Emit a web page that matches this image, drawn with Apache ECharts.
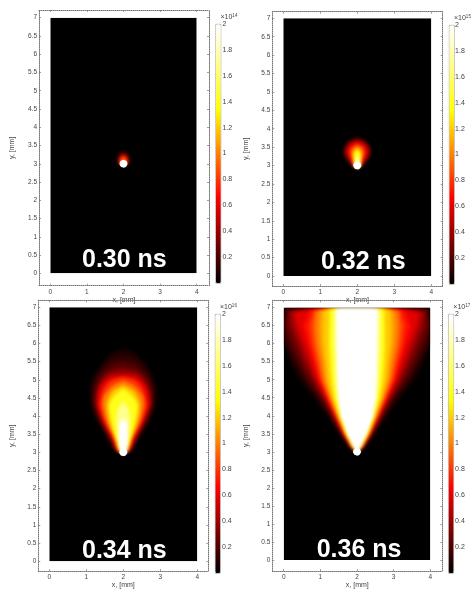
<!DOCTYPE html>
<html><head><meta charset="utf-8">
<style>html,body{margin:0;padding:0;background:#fff}#c{width:471px;height:590px}</style>
<script src="https://cdn.jsdelivr.net/npm/echarts@6/dist/echarts.min.js"></script>
</head><body><div id="c"></div>
<script>
// Values. Each isoline: [level, [[y mm, half-width mm about x=2], ...]]
const xTicks = [0, 1, 2, 3, 4];
const yTicks = [0, 0.5, 1, 1.5, 2, 2.5, 3, 3.5, 4, 4.5, 5, 5.5, 6, 6.5, 7];
const barTicks = [0.2, 0.4, 0.6, 0.8, 1, 1.2, 1.4, 1.6, 1.8, 2];
const timeLabels = ['0.30 ns', '0.32 ns', '0.34 ns', '0.36 ns'];
const exponents = ['14', '15', '16', '17'];
const field = [0, [[7, 2], [0, 2]]];
const electrode = [2, [[3.11, 0], [3.08, 0.07], [3, 0.11], [2.92, 0.07], [2.89, 0]]];

const panel030 = [
  [0.1, [[3.36, 0], [3.3, 0.12], [3.15, 0.19], [3.0, 0.16], [2.92, 0]]],
  [0.3, [[3.31, 0], [3.26, 0.1], [3.14, 0.15], [3.0, 0.14], [2.95, 0]]],
  [0.6, [[3.25, 0], [3.2, 0.08], [3.12, 0.12], [3.0, 0.12], [2.95, 0]]],
  [0.9, [[3.2, 0], [3.16, 0.06], [3.1, 0.1], [3.0, 0.1], [2.95, 0]]]
];
const panel032 = [
  [0.05, [[3.82, 0], [3.72, 0.22], [3.5, 0.38], [3.3, 0.41], [3.1, 0.28], [2.98, 0.14], [2.92, 0]]],
  [0.15, [[3.77, 0], [3.68, 0.22], [3.5, 0.36], [3.3, 0.37], [3.1, 0.25], [2.98, 0.13], [2.92, 0]]],
  [0.3, [[3.73, 0], [3.65, 0.2], [3.5, 0.33], [3.3, 0.34], [3.1, 0.22], [2.98, 0.12], [2.92, 0]]],
  [0.45, [[3.69, 0], [3.62, 0.19], [3.47, 0.3], [3.3, 0.3], [3.1, 0.19], [2.98, 0.11], [2.92, 0]]],
  [0.6, [[3.65, 0], [3.58, 0.17], [3.42, 0.27], [3.25, 0.25], [3.1, 0.16], [2.98, 0.11], [2.92, 0]]],
  [0.8, [[3.59, 0], [3.51, 0.15], [3.38, 0.21], [3.2, 0.17], [3.08, 0.13], [2.98, 0.1], [2.92, 0]]],
  [1.0, [[3.54, 0], [3.45, 0.13], [3.33, 0.16], [3.15, 0.12], [3.0, 0.1], [2.92, 0]]],
  [1.2, [[3.48, 0], [3.38, 0.1], [3.27, 0.12], [3.12, 0.1], [3.0, 0.09], [2.92, 0]]],
  [1.4, [[3.42, 0], [3.32, 0.08], [3.2, 0.09], [3.1, 0.09], [3.0, 0.09], [2.92, 0]]],
  [1.8, [[3.25, 0], [3.17, 0.05], [3.08, 0.07], [3.0, 0.08], [2.92, 0]]]
];
const panel034 = [
  [0.05, [[5.88, 0], [5.78, 0.28], [5.5, 0.56], [5.1, 0.82], [4.75, 0.92], [4.3, 0.9], [3.85, 0.73], [3.4, 0.46], [3.04, 0.25], [2.96, 0]]],
  [0.1, [[5.76, 0], [5.66, 0.32], [5.42, 0.56], [5.1, 0.76], [4.75, 0.87], [4.3, 0.85], [3.85, 0.69], [3.4, 0.43], [3.04, 0.23], [2.96, 0]]],
  [0.15, [[5.62, 0], [5.5, 0.38], [5.1, 0.7], [4.75, 0.82], [4.3, 0.82], [3.85, 0.66], [3.4, 0.41], [3.04, 0.22], [2.96, 0]]],
  [0.22, [[5.48, 0], [5.38, 0.36], [5.1, 0.63], [4.75, 0.78], [4.3, 0.79], [3.85, 0.63], [3.4, 0.39], [3.04, 0.2], [2.96, 0]]],
  [0.3, [[5.35, 0], [5.27, 0.34], [5.1, 0.56], [4.75, 0.74], [4.3, 0.76], [3.85, 0.6], [3.4, 0.37], [3.04, 0.19], [2.96, 0]]],
  [0.37, [[5.27, 0], [5.2, 0.35], [5.0, 0.58], [4.7, 0.71], [4.3, 0.74], [3.85, 0.58], [3.4, 0.35], [3.04, 0.18], [2.96, 0]]],
  [0.45, [[5.2, 0], [5.14, 0.37], [4.9, 0.58], [4.6, 0.7], [4.3, 0.72], [3.85, 0.56], [3.4, 0.34], [3.04, 0.17], [2.96, 0]]],
  [0.6, [[5.14, 0], [5.08, 0.35], [4.93, 0.54], [4.75, 0.65], [4.3, 0.7], [3.85, 0.54], [3.4, 0.32], [3.04, 0.16], [2.96, 0]]],
  [0.8, [[5.08, 0], [5.0, 0.3], [4.8, 0.5], [4.6, 0.58], [4.3, 0.63], [3.85, 0.5], [3.4, 0.28], [3.04, 0.15], [2.96, 0]]],
  [1.0, [[4.97, 0], [4.85, 0.28], [4.57, 0.52], [4.3, 0.56], [3.85, 0.45], [3.4, 0.25], [3.04, 0.13], [2.96, 0]]],
  [1.2, [[4.85, 0], [4.7, 0.28], [4.4, 0.44], [4.1, 0.44], [3.7, 0.34], [3.3, 0.2], [3.04, 0.11], [2.96, 0]]],
  [1.4, [[4.75, 0], [4.55, 0.24], [4.3, 0.38], [3.85, 0.32], [3.4, 0.2], [3.04, 0.1], [2.96, 0]]],
  [1.7, [[4.4, 0], [4.2, 0.14], [3.9, 0.19], [3.5, 0.16], [3.04, 0.09], [2.96, 0]]],
  [2, [[3.95, 0], [3.8, 0.1], [3.4, 0.13], [3.04, 0.09], [2.96, 0]]]
];
const panel036 = [
  [0.05, [[7, 1.9], [6.98, 2], [6.1, 2], [5.5, 1.85], [5, 1.6], [4.5, 1.2], [4, 0.84], [3.5, 0.52], [3.13, 0.25], [2.96, 0]]],
  [0.1, [[7, 1.7], [6.97, 2], [6, 2], [5.5, 1.75], [5, 1.5], [4.5, 1.1], [4, 0.78], [3.5, 0.48], [3.13, 0.22], [2.96, 0]]],
  [0.15, [[7, 1.55], [6.97, 1.95], [6.3, 2], [6, 1.92], [5.5, 1.68], [5, 1.43], [4.5, 1.06], [4, 0.75], [3.5, 0.46], [3.13, 0.215], [2.96, 0]]],
  [0.2, [[7, 1.4], [6.97, 1.9], [6.5, 2], [6, 1.85], [5.5, 1.62], [5, 1.37], [4.5, 1.02], [4, 0.72], [3.5, 0.45], [3.13, 0.21], [2.96, 0]]],
  [0.25, [[7, 1.25], [6.96, 1.75], [6.6, 1.98], [6, 1.77], [5.5, 1.56], [5, 1.31], [4.5, 0.98], [4, 0.7], [3.5, 0.43], [3.13, 0.205], [2.96, 0]]],
  [0.3, [[7, 1.1], [6.95, 1.6], [6.9, 1.9], [6.5, 1.9], [6, 1.7], [5.5, 1.5], [5, 1.25], [4.5, 0.95], [4, 0.68], [3.5, 0.42], [3.13, 0.2], [2.96, 0]]],
  [0.37, [[7, 1.02], [6.94, 1.55], [6.89, 1.85], [6.5, 1.82], [6, 1.63], [5.5, 1.43], [5, 1.2], [4.5, 0.92], [4, 0.66], [3.5, 0.41], [3.13, 0.19], [2.96, 0]]],
  [0.45, [[7, 0.95], [6.93, 1.5], [6.88, 1.8], [6.5, 1.75], [6, 1.56], [5.5, 1.37], [5, 1.16], [4.5, 0.9], [4, 0.65], [3.5, 0.4], [3.13, 0.18], [2.96, 0]]],
  [0.52, [[7, 0.9], [6.93, 1.45], [6.86, 1.74], [6.5, 1.68], [6, 1.49], [5.5, 1.31], [5, 1.12], [4.5, 0.87], [4, 0.63], [3.5, 0.39], [3.13, 0.175], [2.96, 0]]],
  [0.6, [[7, 0.85], [6.93, 1.4], [6.85, 1.68], [6.5, 1.6], [6, 1.42], [5.5, 1.25], [5, 1.08], [4.5, 0.84], [4, 0.62], [3.5, 0.38], [3.13, 0.17], [2.96, 0]]],
  [0.7, [[7, 0.8], [6.92, 1.3], [6.5, 1.46], [6, 1.33], [5.5, 1.18], [5, 1.04], [4.5, 0.82], [4, 0.6], [3.5, 0.37], [3.13, 0.165], [2.96, 0]]],
  [0.8, [[7, 0.75], [6.92, 1.2], [6.5, 1.32], [6, 1.25], [5.5, 1.12], [5, 1.0], [4.5, 0.8], [4, 0.58], [3.5, 0.36], [3.13, 0.16], [2.96, 0]]],
  [0.9, [[7, 0.72], [6.91, 1.15], [6.5, 1.22], [6, 1.17], [5.5, 1.06], [5, 0.96], [4.5, 0.77], [4, 0.56], [3.5, 0.35], [3.13, 0.155], [2.96, 0]]],
  [1.0, [[7, 0.7], [6.9, 1.1], [6.5, 1.14], [6, 1.1], [5.5, 1.0], [5, 0.92], [4.5, 0.75], [4, 0.55], [3.5, 0.34], [3.13, 0.15], [2.96, 0]]],
  [1.1, [[7, 0.66], [6.91, 1.0], [6.5, 1.03], [6, 1.0], [5.5, 0.92], [5, 0.86], [4.5, 0.71], [4, 0.53], [3.5, 0.33], [3.13, 0.14], [2.96, 0]]],
  [1.2, [[7, 0.62], [6.92, 0.9], [6.5, 0.93], [6, 0.92], [5.5, 0.85], [5, 0.8], [4.5, 0.68], [4, 0.51], [3.5, 0.32], [3.13, 0.13], [2.96, 0]]],
  [1.4, [[7, 0.55], [6.93, 0.75], [6, 0.76], [5.5, 0.74], [5, 0.7], [4.5, 0.62], [4, 0.48], [3.5, 0.3], [3.13, 0.12], [2.96, 0]]],
  [1.65, [[7, 0.48], [6.94, 0.65], [6, 0.65], [5, 0.61], [4.5, 0.56], [4, 0.46], [3.5, 0.28], [3.13, 0.1], [2.96, 0]]],
  [2, [[7, 0.4], [6.95, 0.57], [6, 0.56], [5, 0.54], [4.5, 0.51], [4, 0.44], [3.5, 0.26], [3.13, 0.09], [2.96, 0]]]
];
const panelContours = [panel030, panel032, panel034, panel036];

// Layout of the four panels (pixels): outer frame, black field, colour bar
const layout = [
  {frame:[39,10,209,285.7], plot:[50.3,17.7,196.7,273.3], bar:[215.5,24,5,259], label:[82,248]},
  {frame:[272.3,11.7,442.7,286], plot:[283.3,18.3,431.3,276], bar:[449,25,5,259], label:[321,250]},
  {frame:[38.3,300.3,208.3,575], plot:[49.3,307.3,197.3,565], bar:[215,314,5,259], label:[82,539]},
  {frame:[272.3,300.3,442.3,574.3], plot:[283.7,307.7,430.3,563], bar:[448.3,314,5,259], label:[316.7,538]}
];
const textColor = '#444';
const frameColor = '#777';
const tickStyle = {color: '#777', width: 0.7};

// The plume layer is softened and held inside the black fields.
const clip = layout.map(p => {
  const [l, t, r, b] = p.plot;
  return `M${l} ${t}H${r}V${b}H${l}Z`;
}).join('');
const css = document.createElement('style');
css.textContent = `#c canvas[data-zr-dom-id="zr_1"]{filter:blur(1.8px);clip-path:path('${clip}')}`;
document.head.appendChild(css);

const grids = [], xAxes = [], yAxes = [], series = [], visualMaps = [], titles = [];

function frameAxis(base) {
  return Object.assign({
    type: 'value', axisLine: {show: true, onZero: false, lineStyle: {color: frameColor, width: 1, type: 'dotted'}},
    axisLabel: {show: false}, splitLine: {show: false}, silent: true
  }, base);
}
function contourSeries(contours, xi, yi, zlevel, smooth, seriesList) {
  const renderItem = (params, api) => {
    const pts = contours[params.dataIndex][1];
    const right = pts.map(q => api.coord([2 + q[1], q[0]]));
    const left = pts.slice().reverse().map(q => api.coord([2 - q[1], q[0]]));
    const tl = api.coord([0, 7]), br = api.coord([4, 0]);
    return {
      type: 'polygon',
      shape: {points: right.concat(left), smooth},
      style: {fill: api.visual('color')},
      clipPath: {type: 'rect', shape: {x: tl[0], y: tl[1], width: br[0] - tl[0], height: br[1] - tl[1]}},
      silent: true
    };
  };
  seriesList.push({
    type: 'custom', xAxisIndex: xi, yAxisIndex: yi, renderItem, animation: false, silent: true, zlevel,
    encode: {x: 0, y: 1},
    data: contours.map(c => [2, 3, c[0]])
  });
  return seriesList.length - 1;
}

layout.forEach((p, i) => {
  const [fl, ft, fr, fb] = p.frame, [pl, pt, pr, pb] = p.plot;
  const sx = (pr - pl) / 4, sy = (pb - pt) / 7;
  const xr = {min: (fl - pl) / sx, max: (fr - pl) / sx};
  const yr = {min: (pb - fb) / sy, max: (pb - ft) / sy};
  grids.push({left: fl, top: ft, width: fr - fl, height: fb - ft});
  const g = grids.length - 1;
  const lab = {fontSize: 6.5, color: textColor, fontFamily: 'Liberation Sans'};
  const bottomX = xAxes.length;
  xAxes.push(frameAxis(Object.assign({gridIndex: g, position: 'bottom', name: 'x, [mm]', nameLocation: 'middle', nameGap: 8,
    nameTextStyle: {fontSize: 7, color: textColor, fontFamily: 'Liberation Sans'},
    axisTick: {show: true, inside: true, length: 2, lineStyle: tickStyle, customValues: xTicks},
    axisLabel: Object.assign({show: true, margin: 3, customValues: xTicks}, lab)}, xr)));
  xAxes.push(frameAxis(Object.assign({gridIndex: g, position: 'top', axisTick: {show: true, inside: true, length: 2, lineStyle: tickStyle, customValues: xTicks}}, xr)));
  const leftY = yAxes.length;
  yAxes.push(frameAxis(Object.assign({gridIndex: g, position: 'left', name: 'y, [mm]', nameLocation: 'middle', nameGap: 23,
    nameTextStyle: {fontSize: 7, color: textColor, fontFamily: 'Liberation Sans'},
    axisTick: {show: true, inside: true, length: 2, lineStyle: tickStyle, customValues: yTicks},
    axisLabel: Object.assign({show: true, margin: 2, customValues: yTicks}, lab)}, yr)));
  yAxes.push(frameAxis(Object.assign({gridIndex: g, position: 'right', axisTick: {show: true, inside: true, length: 2, lineStyle: tickStyle, customValues: yTicks}}, yr)));

  const seriesIdx = [
    contourSeries([field], bottomX, leftY, 0, 0, series),
    contourSeries(panelContours[i], bottomX, leftY, 1, i === 3 ? 0 : 0.25, series),
    contourSeries([electrode], bottomX, leftY, 2, 0.3, series)
  ];
  visualMaps.push({
    type: 'continuous', seriesIndex: seriesIdx, dimension: 2, min: 0, max: 2, calculable: false, hoverLink: false, text: null,
    left: p.bar[0], top: p.bar[1], itemWidth: p.bar[2], itemHeight: p.bar[3], padding: 0,
    borderColor: '#888', borderWidth: 0.6,
    inRange: {color: ['#000000', '#ff0000', '#ffff00', '#ffffff']}
  });
  // Colour-bar scale
  grids.push({left: p.bar[0], top: p.bar[1], width: p.bar[2], height: p.bar[3]});
  xAxes.push({gridIndex: g + 1, type: 'value', show: false, min: 0, max: 1});
  yAxes.push({gridIndex: g + 1, type: 'value', position: 'right', min: 0, max: 2,
    name: '{a|×10}{b|' + exponents[i] + '}', nameLocation: 'end', nameGap: 0,
    nameTextStyle: {align: 'left', verticalAlign: 'bottom', padding: [0, 0, 1, 5], rich: {a: {fontSize: 7, color: textColor}, b: {fontSize: 4.5, color: textColor, verticalAlign: 'top', padding: [0, 0, 3, 0]}}},
    axisLine: {show: false}, axisTick: {show: false}, splitLine: {show: false},
    axisLabel: {show: true, fontSize: 7, color: textColor, margin: 2, fontFamily: 'Liberation Sans', customValues: barTicks}
  });
  titles.push({text: timeLabels[i], left: p.label[0], top: p.label[1], padding: 0, zlevel: 2,
    textStyle: {color: '#fff', fontSize: 25, fontWeight: 'bold', fontFamily: 'Liberation Sans'}});
});

const chart = echarts.init(document.getElementById('c'), null, {renderer: 'canvas'});
chart.setOption({animation: false, backgroundColor: '#fff', title: titles, grid: grids, xAxis: xAxes, yAxis: yAxes, visualMap: visualMaps, series});
</script></body></html>
